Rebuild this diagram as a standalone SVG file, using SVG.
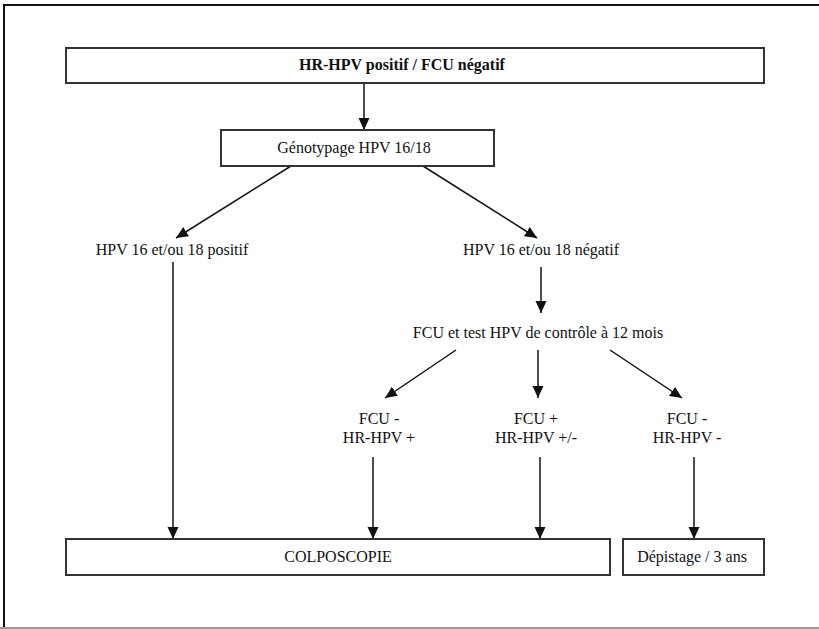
<svg xmlns="http://www.w3.org/2000/svg" width="819" height="629" viewBox="0 0 819 629">
<style>
.box{fill:#fff;stroke:#333;stroke-width:2}
.t{font-family:"Liberation Serif","Times New Roman",serif;font-size:16px;fill:#111;text-anchor:middle}
.b{font-weight:bold}
.c{stroke:#111;stroke-width:1.5;fill:none;marker-end:url(#ah)}
</style>
<defs>
<marker id="ah" markerUnits="userSpaceOnUse" markerWidth="12" markerHeight="12" viewBox="0 0 12 12" refX="12" refY="6" orient="auto">
<path d="M0,0.5 L12,6 L0,11.5 z" fill="#111"/>
</marker>
</defs>
<rect x="0" y="0" width="819" height="629" fill="#fff"/>
<g id="frame">
<path d="M4,629 V5 H819" fill="none" stroke="#111" stroke-width="2"/>
<line x1="0" y1="628" x2="819" y2="628" stroke="#999" stroke-width="2"/>
</g>
<g id="connectors">
<line class="c" x1="364" y1="83" x2="364" y2="130"/>
<line class="c" x1="291" y1="166" x2="176" y2="238"/>
<line class="c" x1="423" y1="166" x2="537" y2="238"/>
<line class="c" x1="541" y1="267" x2="541" y2="313"/>
<line class="c" x1="456" y1="350" x2="385" y2="398"/>
<line class="c" x1="538" y1="350" x2="538" y2="398"/>
<line class="c" x1="610" y1="350" x2="682" y2="398"/>
<line class="c" x1="173" y1="262" x2="173" y2="539"/>
<line class="c" x1="373" y1="457" x2="373" y2="539"/>
<line class="c" x1="540" y1="457" x2="540" y2="539"/>
<line class="c" x1="694" y1="457" x2="694" y2="539"/>
</g>
<g id="n-top">
<rect class="box" x="66" y="48" width="698" height="35"/>
<text class="t b" x="402" y="70">HR-HPV positif / FCU négatif</text>
</g>
<g id="n-geno">
<rect class="box" x="221" y="130" width="273" height="36"/>
<text class="t" x="354" y="153">Génotypage HPV 16/18</text>
</g>
<g id="n-pos">
<text class="t" x="172" y="255">HPV 16 et/ou 18 positif</text>
</g>
<g id="n-neg">
<text class="t" x="541" y="255">HPV 16 et/ou 18 négatif</text>
</g>
<g id="n-ctrl">
<text class="t" x="538" y="338">FCU et test HPV de contrôle à 12 mois</text>
</g>
<g id="n-r1">
<text class="t" x="379" y="424">FCU -</text>
<text class="t" x="379" y="443">HR-HPV +</text>
</g>
<g id="n-r2">
<text class="t" x="536" y="424">FCU +</text>
<text class="t" x="536" y="443">HR-HPV +/-</text>
</g>
<g id="n-r3">
<text class="t" x="687" y="424">FCU -</text>
<text class="t" x="687" y="443">HR-HPV -</text>
</g>
<g id="n-colpo">
<rect class="box" x="66" y="539" width="544" height="36"/>
<text class="t" x="338" y="562">COLPOSCOPIE</text>
</g>
<g id="n-dep">
<rect class="box" x="623" y="539" width="141" height="36"/>
<text class="t" x="692" y="562">Dépistage / 3 ans</text>
</g>
</svg>
